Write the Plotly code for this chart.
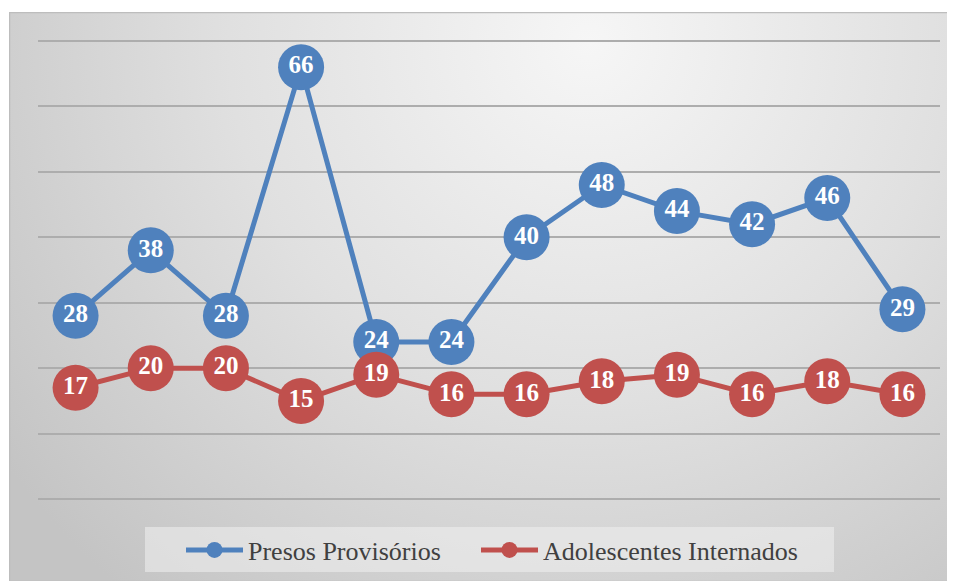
import base64
import plotly.graph_objects as go

categories = [str(i) for i in range(1, 13)]
presos = [28, 38, 28, 66, 24, 24, 40, 48, 44, 42, 46, 29]
adolescentes = [17, 20, 20, 15, 19, 16, 16, 18, 19, 16, 18, 16]
series_names = ["Presos Provisórios", "Adolescentes Internados"]
colors = ["#4F81BD", "#C0504D"]

OFF = 8  # page body margin offset
W, H = 955 - OFF, 581 - OFF
ML, MR, MT, MB = 38 - OFF, 15, 31, 80
pw = W - ML - MR
ph = H - MT - MB

def px_x(p):
    return (p - OFF - ML) / pw

def px_y(p):
    return (H - MB - (p - OFF)) / ph

bw, bh = 955 - 9, 581 - 12
svg = (
    f'<svg xmlns="http://www.w3.org/2000/svg" width="{bw}" height="{bh}" viewBox="0 0 {bw} {bh}" preserveAspectRatio="none">'
    '<defs><radialGradient id="g" gradientUnits="userSpaceOnUse" cx="580" cy="30" r="720">'
    '<stop offset="0" stop-color="#f6f6f6"/><stop offset="0.5" stop-color="#e0e0e0"/>'
    '<stop offset="1" stop-color="#c4c4c4"/></radialGradient></defs>'
    f'<rect x="0.5" y="0.5" width="{bw}" height="{bh}" fill="url(#g)" stroke="#bdbdbd" stroke-width="1.5"/>'
    '</svg>'
)
src = "data:image/svg+xml;base64," + base64.b64encode(svg.encode()).decode()

legend_ids = ["legend", "legend2"]
fig = go.Figure()
for name, vals, col, lg in zip(series_names, [presos, adolescentes], colors, legend_ids):
    fig.add_trace(go.Scatter(
        x=categories, y=vals, name=name, legend=lg,
        mode="lines+markers+text",
        line=dict(color=col, width=5),
        marker=dict(color=col, size=46, line=dict(width=0)),
        text=[str(v) for v in vals],
        textposition="middle center",
        textfont=dict(family="Liberation Serif", size=25, color="white", weight="bold"),
        cliponaxis=False,
    ))

legend_style = dict(
    orientation="h", xanchor="left", y=px_y(550), yanchor="middle",
    bgcolor="rgba(0,0,0,0)",
    font=dict(family="Liberation Serif", size=26, color="#404040"),
    itemwidth=57,
)

fig.update_layout(
    width=W, height=H,
    margin=dict(l=ML, r=MR, t=MT, b=MB, autoexpand=False),
    paper_bgcolor="white",
    plot_bgcolor="rgba(0,0,0,0)",
    showlegend=True,
    legend=dict(x=px_x(181), **legend_style),
    legend2=dict(x=px_x(476), **legend_style),
    xaxis=dict(range=[-0.5, 11.5], showgrid=False, showticklabels=False, zeroline=False,
               showline=False, ticks=""),
    yaxis=dict(range=[-0.3, 70.3], dtick=10, tick0=0, showgrid=True, gridcolor="#adadad", gridwidth=2,
               showticklabels=False, zeroline=False, showline=False, ticks=""),
    images=[dict(source=src, xref="paper", yref="paper",
                 x=px_x(9), y=px_y(12), sizex=bw / pw, sizey=bh / ph,
                 xanchor="left", yanchor="top", sizing="stretch", layer="below")],
    shapes=[dict(type="rect", xref="paper", yref="paper", layer="below",
                 x0=px_x(145), x1=px_x(834), y0=px_y(572), y1=px_y(527),
                 fillcolor="rgba(240,240,240,0.55)", line=dict(width=0))],
)

fig.write_html("out.html")
